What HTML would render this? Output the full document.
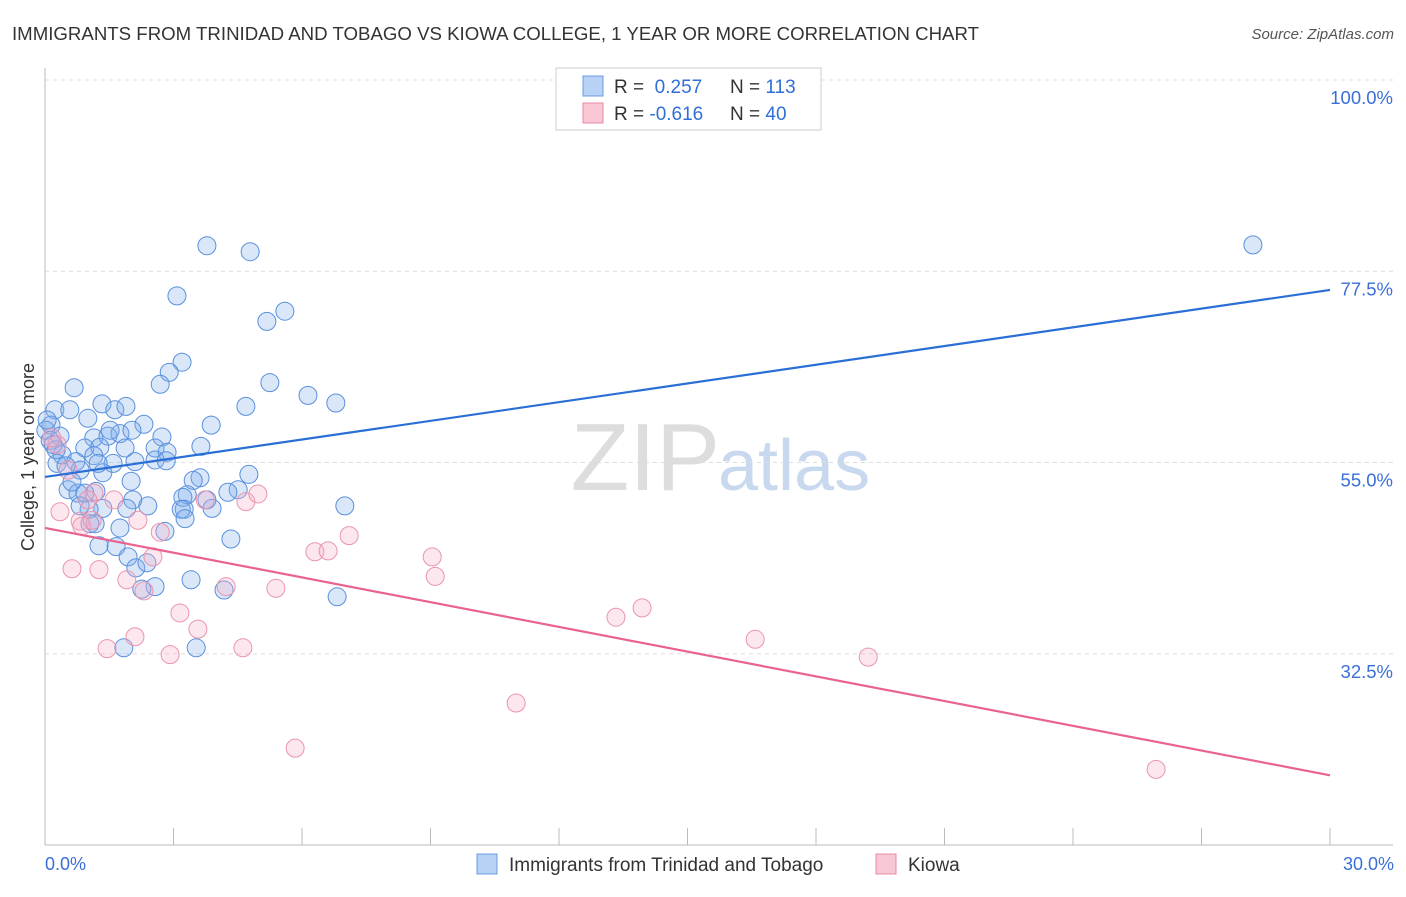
<!DOCTYPE html>
<html><head><meta charset="utf-8"><style>
body{margin:0;background:#fff;font-family:"Liberation Sans",sans-serif}
svg text{font-family:"Liberation Sans",sans-serif}
</style></head><body>
<svg width="1406" height="892" id="chart">
<text x="12" y="40" font-size="18" fill="#333" textLength="967" lengthAdjust="spacingAndGlyphs">IMMIGRANTS FROM TRINIDAD AND TOBAGO VS KIOWA COLLEGE, 1 YEAR OR MORE CORRELATION CHART</text>
<text x="1394" y="39" font-size="15" fill="#555" font-style="italic" text-anchor="end">Source: ZipAtlas.com</text>
<text x="720" y="490" font-size="96" fill="#ddd" text-anchor="end" font-family="Liberation Serif">ZIP</text>
<text x="718" y="490" font-size="72" fill="#c8d8ee">atlas</text>
<g id="grid"></g><g id="axes"></g>
<g id="pts"></g><g id="lines"></g>
<text transform="translate(34,457) rotate(-90)" font-size="18" fill="#333" text-anchor="middle">College, 1 year or more</text>
<text x="45" y="870" font-size="18" fill="#3a6fd8">0.0%</text>
<text x="1394" y="870" font-size="18" fill="#3a6fd8" text-anchor="end">30.0%</text>
<g>
<rect x="556" y="68" width="265" height="62" fill="#fff" stroke="#ccc"/>
<rect x="583" y="76" width="20" height="20" fill="#b8d2f5" stroke="#6a9be0"/>
<rect x="583" y="103" width="20" height="20" fill="#f9c6d4" stroke="#e88aa6"/>
<text x="614" y="93" font-size="19" fill="#333">R = <tspan fill="#2f6fd6">&#160;0.257</tspan><tspan x="730">N = </tspan><tspan fill="#2f6fd6">113</tspan></text>
<text x="614" y="120" font-size="19" fill="#333">R = <tspan fill="#2f6fd6">-0.616</tspan><tspan x="730">N = </tspan><tspan fill="#2f6fd6">40</tspan></text>
</g>
<g>
<rect x="477" y="854" width="20" height="20" fill="#b8d2f5" stroke="#6a9be0"/>
<text x="509" y="871" font-size="19" fill="#333">Immigrants from Trinidad and Tobago</text>
<rect x="876" y="854" width="20" height="20" fill="#f9c6d4" stroke="#e88aa6"/>
<text x="908" y="871" font-size="19" fill="#333">Kiowa</text>
</g>
</svg>
<script>
const yTicks=[100,77.5,55,32.5];
const yTickLabels=["100.0%","77.5%","55.0%","32.5%"];
const blueX=[3.78,4.79,28.2,3.08,5.18,5.60,3.20,2.90,2.69,5.25,6.14,6.79,4.69,0.68,3.88,0.23,0.58,1.33,1.63,1.89,2.31,1.00,0.14,0.02,0.35,1.14,1.47,1.75,2.03,2.73,0.93,1.28,1.87,2.57,2.85,3.64,0.40,0.72,1.14,1.59,2.57,2.83,0.28,0.82,1.35,4.76,3.62,2.01,0.54,0.77,0.63,1.19,0.93,4.51,4.27,3.46,3.32,3.22,3.25,3.78,3.90,3.18,3.27,2.05,1.91,2.40,1.35,1.03,0.82,7.00,1.17,1.05,1.75,2.80,4.34,1.66,1.26,1.94,2.12,2.38,3.41,2.57,2.26,4.18,6.82,1.84,3.53,0.12,0.19,0.05,0.26,0.49,1.24,1.52,2.10];
const blueY=[80.5,79.8,80.6,74.6,71.6,72.8,66.8,65.6,64.2,64.4,62.9,62.0,61.6,63.8,59.4,61.2,61.2,61.9,61.2,61.6,59.5,60.2,59.4,58.8,58.1,57.9,58.1,58.4,58.8,58.0,56.7,56.8,56.7,56.7,56.2,56.9,55.9,55.1,55.8,54.9,55.3,55.2,54.9,54.1,53.8,53.6,53.2,52.8,51.8,51.4,52.7,51.6,51.4,51.8,51.5,52.9,51.2,50.9,49.5,50.6,49.6,49.5,48.4,50.6,49.6,49.9,49.6,49.5,49.9,49.9,47.8,47.8,47.3,46.9,46.0,45.1,45.2,43.9,42.6,43.2,41.2,40.4,40.1,40.0,39.2,33.2,33.2,57.6,57.1,60.0,56.5,54.6,54.9,58.8,55.1];
const pinkX=[0.28,0.16,0.35,0.63,1.26,1.45,2.10,0.82,0.86,1.14,1.61,1.91,2.31,2.52,2.69,2.92,3.15,3.57,3.74,4.23,4.62,4.69,4.97,5.39,5.84,6.30,6.61,7.10,9.04,9.11,11.0,13.33,13.94,16.58,19.22,25.94,1.00,2.17,0.54,1.10];
const pinkY=[57.1,57.9,49.2,42.5,42.4,33.1,34.5,48.1,47.5,51.4,50.6,41.2,39.9,43.9,46.8,32.4,37.3,35.4,50.6,40.4,33.2,50.4,51.3,40.2,21.4,44.5,44.6,46.4,43.9,41.6,26.7,36.8,37.9,34.2,32.1,18.9,50.6,48.2,54.1,48.2];
const blueTrend=[53.3,75.3];
const pinkTrend=[47.3,18.2];
const xDomain=[0,30];
const NS="http://www.w3.org/2000/svg";
const X=v=>45+(v-xDomain[0])/(xDomain[1]-xDomain[0])*1285;
const Y=v=>80+(100-v)*8.5;
function mk(tag,attrs,parent){const e=document.createElementNS(NS,tag);for(const k in attrs)e.setAttribute(k,attrs[k]);document.getElementById(parent).appendChild(e);return e;}
yTicks.forEach((t,i)=>{
 const g=mk('line',{x1:45,x2:1393,y1:Y(t),y2:Y(t),stroke:'#ddd','stroke-dasharray':'4,4'},'grid');
 
 
 const l=mk('text',{x:1393,y:Y(t)+24,'font-size':18.5,fill:'#3a6fd8','text-anchor':'end'},'grid');
 l.textContent=yTickLabels[i];
 
 
});
const ax=mk('line',{x1:45,x2:45,y1:68,y2:845,stroke:'#bbb'},'axes');


const bx=mk('line',{x1:45,x2:1393,y1:845,y2:845,stroke:'#bbb'},'axes');


for(let i=1;i<=10;i++){
 const t=mk('line',{x1:X(i*3),x2:X(i*3),y1:828,y2:845,stroke:'#bbb'},'axes');
 
 
}
blueX.forEach((v,i)=>{
 const c=mk('circle',{cx:X(v),cy:Y(blueY[i]),r:9,fill:'rgba(130,175,235,0.3)',stroke:'#5a90dd','stroke-width':1},'pts');
 
 
});
pinkX.forEach((v,i)=>{
 const c=mk('circle',{cx:X(v),cy:Y(pinkY[i]),r:9,fill:'rgba(245,175,198,0.3)',stroke:'#ea95ae','stroke-width':1},'pts');
 
 
});
const bl=mk('line',{x1:X(0),x2:X(30),y1:Y(blueTrend[0]),y2:Y(blueTrend[1]),stroke:'#2a6fd6','stroke-width':2.2},'lines');


const pl=mk('line',{x1:X(0),x2:X(30),y1:Y(pinkTrend[0]),y2:Y(pinkTrend[1]),stroke:'#e8638f','stroke-width':2.2},'lines');


</script>
</body></html>
